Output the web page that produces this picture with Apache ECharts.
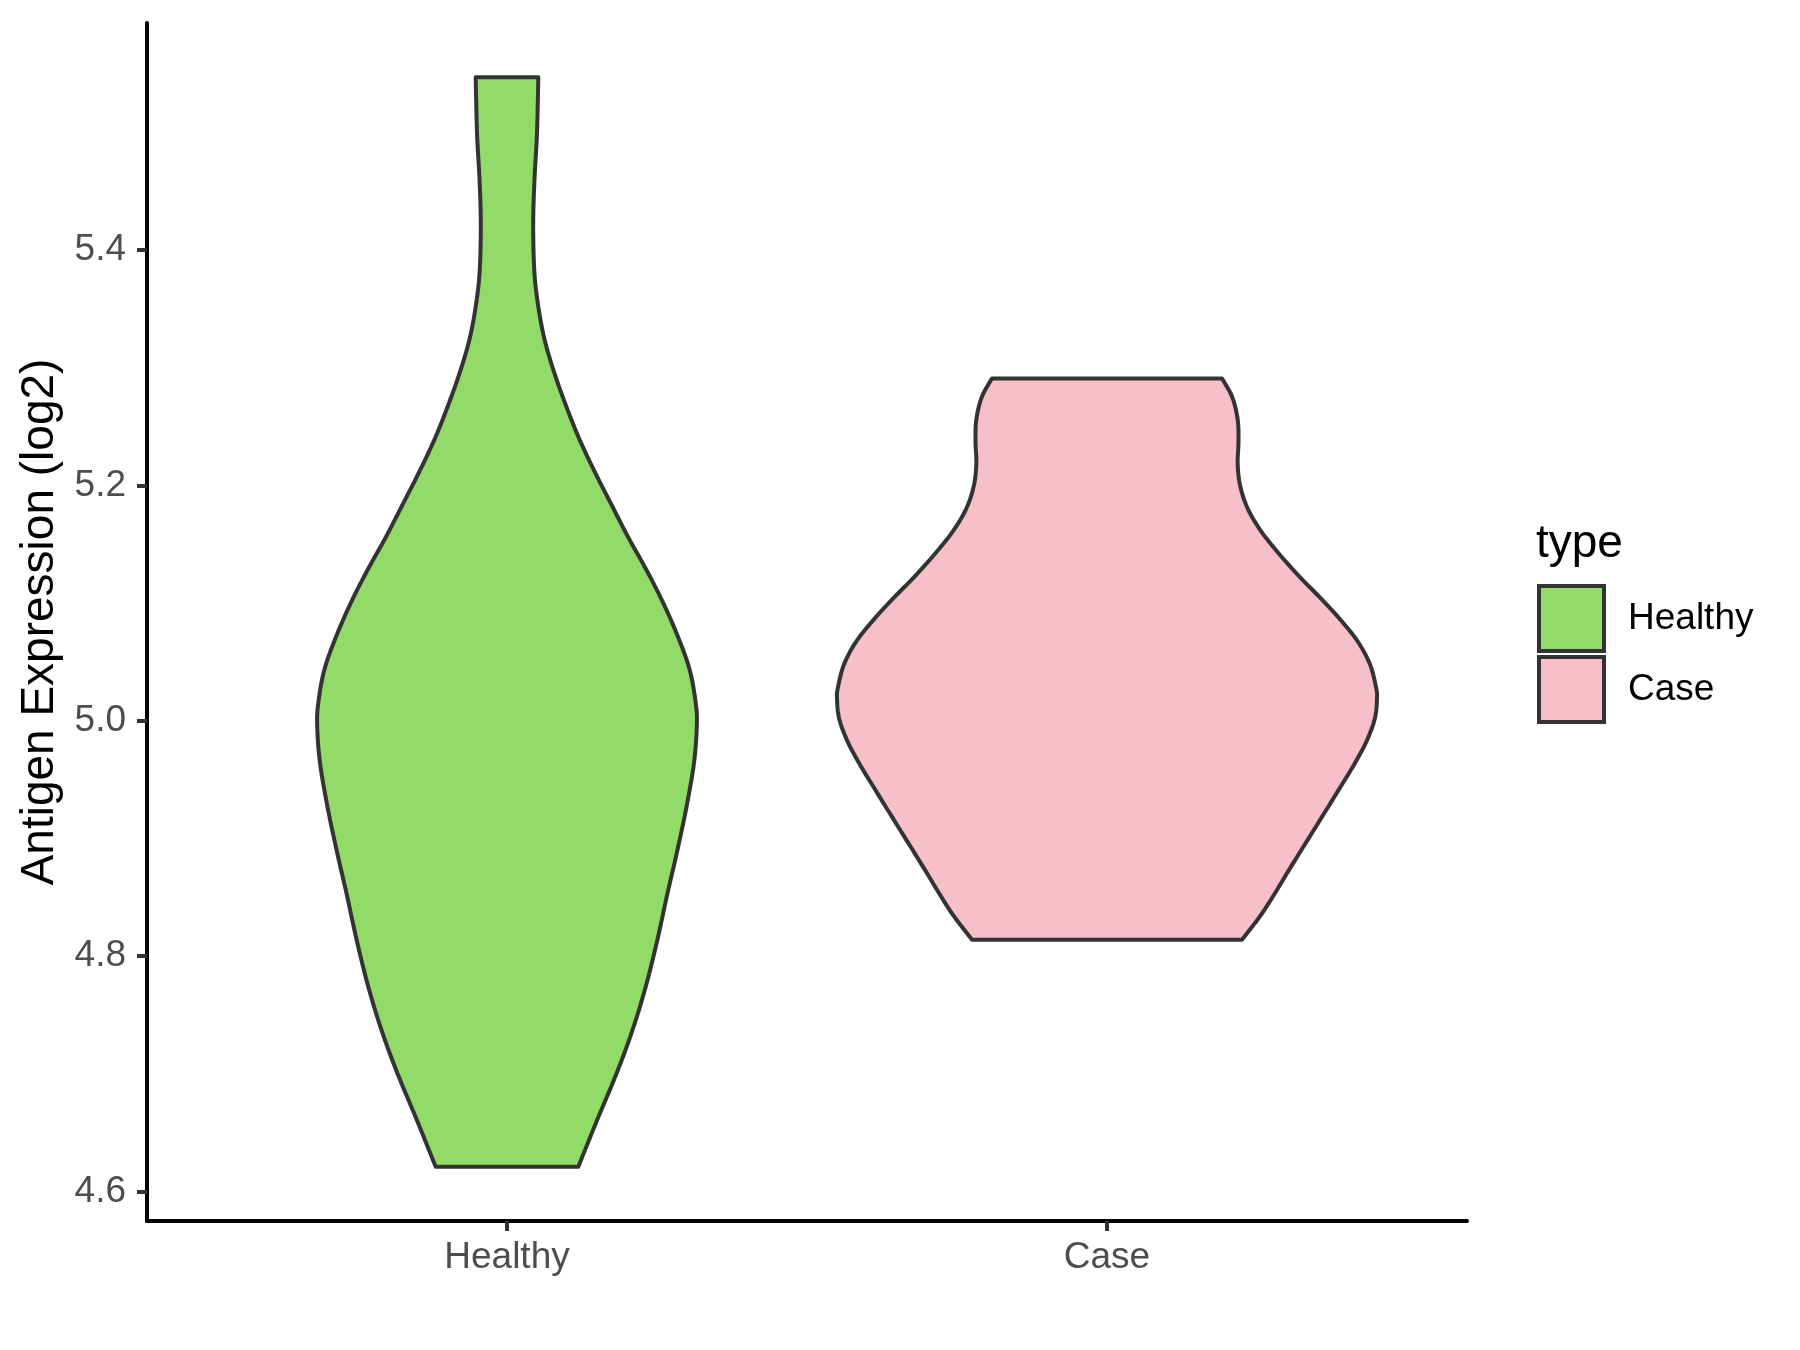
<!DOCTYPE html>
<html>
<head>
<meta charset="utf-8">
<script src="https://cdn.jsdelivr.net/npm/echarts@6/dist/echarts.min.js"></script>
<style>
html,body{margin:0;padding:0;background:#fff;}
#chart{width:1800px;height:1350px;}
</style>
</head>
<body>
<div id="chart"></div>
<script>
// ---- data ----
const categories = ['Healthy', 'Case'];
const yTicks = [4.6, 4.8, 5.0, 5.2, 5.4];

// Healthy violin: y values (top to bottom) and relative density (width)
const healthyY = [5.547, 5.499, 5.461, 5.423, 5.383, 5.355, 5.326, 5.298, 5.270, 5.241, 5.213, 5.185, 5.156, 5.128, 5.100, 5.071, 5.043, 5.015, 4.996, 4.965, 4.927, 4.889, 4.852, 4.814, 4.776, 4.738, 4.700, 4.662, 4.621];
const healthyDensity = [0.116, 0.111, 0.102, 0.097, 0.101, 0.114, 0.137, 0.172, 0.215, 0.265, 0.322, 0.384, 0.449, 0.517, 0.579, 0.634, 0.677, 0.699, 0.703, 0.693, 0.665, 0.630, 0.593, 0.557, 0.516, 0.466, 0.405, 0.336, 0.264];

// Case violin
const caseY = [5.291, 5.275, 5.256, 5.237, 5.218, 5.199, 5.180, 5.161, 5.142, 5.123, 5.104, 5.085, 5.067, 5.048, 5.029, 5.019, 5.002, 4.983, 4.964, 4.945, 4.915, 4.877, 4.839, 4.814];
const caseDensity = [0.426, 0.464, 0.484, 0.487, 0.484, 0.494, 0.522, 0.571, 0.637, 0.711, 0.792, 0.868, 0.930, 0.974, 0.996, 1.000, 0.992, 0.962, 0.918, 0.868, 0.787, 0.684, 0.582, 0.500];

// ---- styling / layout ----
const MAX_HALF = 0.45;          // half of violin width (category units)
const FILLS = ['#93DB69', '#F7BFCA'];
const OUTLINE = '#333333';
const FONT = 'Liberation Sans, Arial, sans-serif';

const groups = [
  { y: healthyY, d: healthyDensity },
  { y: caseY, d: caseDensity }
];

function catmull(points, steps) {
  if (points.length < 3) return points.slice();
  const out = [];
  for (let i = 0; i < points.length - 1; i++) {
    const p0 = points[Math.max(0, i - 1)];
    const p1 = points[i];
    const p2 = points[i + 1];
    const p3 = points[Math.min(points.length - 1, i + 2)];
    for (let s = 0; s < steps; s++) {
      const t = s / steps, t2 = t * t, t3 = t2 * t;
      const f = (a, b, c, d) => 0.5 * ((2 * b) + (-a + c) * t + (2 * a - 5 * b + 4 * c - d) * t2 + (-a + 3 * b - 3 * c + d) * t3);
      out.push([f(p0[0], p1[0], p2[0], p3[0]), f(p0[1], p1[1], p2[1], p3[1])]);
    }
  }
  out.push(points[points.length - 1]);
  return out;
}

function makeRender(gi) {
  return function (params, api) {
    const g = groups[gi];
    const xc = api.value(0);
    const left = g.y.map((v, i) => api.coord([xc - g.d[i] * MAX_HALF, v]));
    const right = g.y.map((v, i) => api.coord([xc + g.d[i] * MAX_HALF, v]));
    const l = catmull(left, 10);
    const r = catmull(right, 10).reverse();
    return {
      type: 'polygon',
      shape: { points: l.concat(r) },
      style: { fill: FILLS[gi], stroke: OUTLINE, lineWidth: 4, lineJoin: 'round' }
    };
  };
}

const chart = echarts.init(document.getElementById('chart'), null, { renderer: 'canvas' });
const option = {
  backgroundColor: '#ffffff',
  animation: false,
  textStyle: { fontFamily: FONT },
  grid: { left: 147, right: 333, top: 23, bottom: 129, containLabel: false },
  title: {
    text: 'type',
    left: 1536, top: 521, padding: 0,
    textStyle: { fontFamily: FONT, fontSize: 46, fontWeight: 'normal', color: '#000' }
  },
  legend: {
    orient: 'vertical',
    left: 1537, top: 584, padding: 0,
    itemWidth: 65, itemHeight: 65, itemGap: 2,
    selectedMode: false,
    textStyle: { fontFamily: FONT, fontSize: 37, color: '#000', padding: [0, 0, 0, 19] },
    data: categories.map((c, i) => ({
      name: c, icon: 'rect',
      itemStyle: { color: FILLS[i], borderColor: OUTLINE, borderWidth: 4 }
    }))
  },
  xAxis: {
    type: 'value',
    min: 0.4, max: 2.6,
    splitLine: { show: false },
    axisLine: { show: true, onZero: false, lineStyle: { color: '#000', width: 4 } },
    axisTick: { show: true, length: 10, customValues: [1, 2], lineStyle: { color: '#333', width: 4 } },
    axisLabel: {
      customValues: [1, 2], margin: 18,
      formatter: v => categories[Math.round(v) - 1] || '',
      fontFamily: FONT, fontSize: 37, color: '#4D4D4D'
    }
  },
  yAxis: {
    type: 'value',
    min: 4.575, max: 5.593,
    name: 'Antigen Expression (log2)',
    nameLocation: 'middle', nameRotate: 90, nameGap: 76,
    nameTextStyle: { fontFamily: FONT, fontSize: 46, color: '#000' },
    splitLine: { show: false },
    axisLine: { show: true, onZero: false, lineStyle: { color: '#000', width: 4 } },
    axisTick: { show: true, length: 10, customValues: yTicks, lineStyle: { color: '#333', width: 4 } },
    axisLabel: {
      customValues: yTicks, margin: 21,
      formatter: v => v.toFixed(1),
      fontFamily: FONT, fontSize: 37, color: '#4D4D4D'
    }
  },
  series: categories.map((c, i) => ({
    name: c,
    type: 'custom',
    itemStyle: { color: FILLS[i] },
    renderItem: makeRender(i),
    data: [[i + 1]],
    encode: { x: 0 },
    clip: false
  }))
};
chart.setOption(option);
</script>
</body>
</html>
